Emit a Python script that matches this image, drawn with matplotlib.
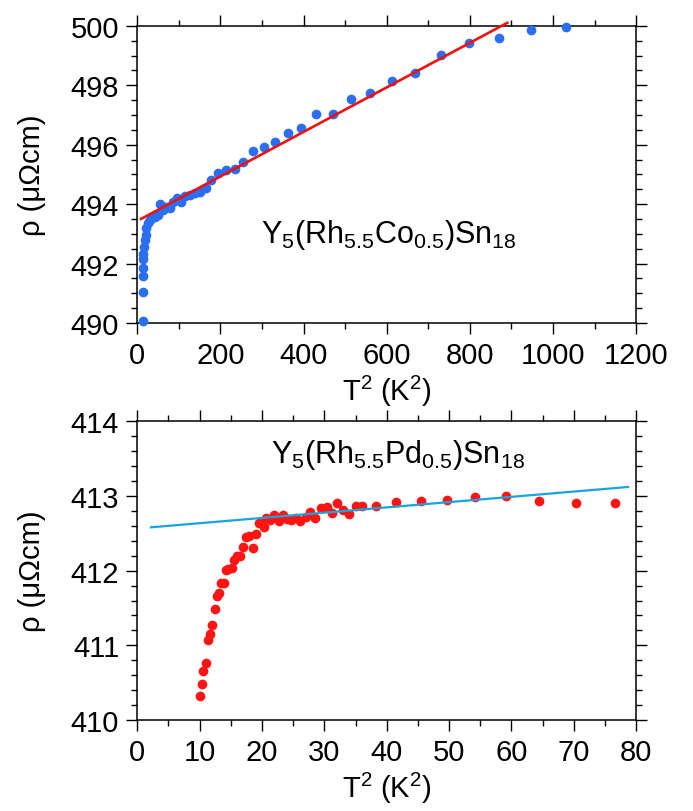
import matplotlib
matplotlib.use('Agg')
import matplotlib.pyplot as plt
from matplotlib.ticker import MultipleLocator

plt.rcParams['font.family'] = ['Liberation Sans', 'DejaVu Sans']
plt.rcParams['mathtext.fontset'] = 'custom'
plt.rcParams['mathtext.rm'] = 'Liberation Sans'
plt.rcParams['mathtext.it'] = 'Liberation Sans:italic'

# Y5(Rh5.5Co0.5)Sn18 : rho vs T^2
co_T2 = [13.6, 13.6, 13.6, 13.6, 15, 15, 17, 19, 20, 22, 26, 30, 34, 42, 50, 55,
         62, 70, 80, 86, 96, 105, 114, 126, 138, 150, 165, 178, 194, 214, 234,
         254, 278, 304, 332, 363, 395, 431, 470, 513, 560, 612, 669, 730, 797,
         869, 947, 1032]
co_rho = [490.06, 491.03, 491.57, 491.84, 492.16, 492.33, 492.56, 492.79, 492.96,
          493.18, 493.35, 493.46, 493.52, 493.57, 493.63, 493.99, 493.80, 493.90,
          493.86, 494.06, 494.21, 494.06, 494.28, 494.32, 494.39, 494.41, 494.55,
          494.81, 495.06, 495.15, 495.17, 495.41, 495.79, 495.91, 496.09, 496.40,
          496.56, 497.03, 497.04, 497.54, 497.75, 498.13, 498.42, 499.03, 499.43,
          499.59, 499.87, 499.96]
co_fit_x = [9, 890]
co_fit_y = [493.50, 500.10]

# Y5(Rh5.5Pd0.5)Sn18 : rho vs T^2
pd_T2 = [10.1, 10.4, 10.6, 11.06, 11.3, 11.7, 12.0, 12.4, 12.8, 13.1, 13.4, 13.9,
         14.2, 14.6, 15.2, 15.55, 16.0, 16.5, 16.9, 17.4, 18.0, 18.5, 19.1, 19.6,
         20.25, 20.7, 21.3, 22.0, 22.7, 23.4, 24.0, 24.7, 25.4, 26.1, 27.0, 27.7,
         28.5, 29.5, 30.4, 31.2, 32.1, 33.0, 34.0, 35.0, 36.1, 38.3, 41.5, 45.5,
         49.7, 54.2, 59.1, 64.4, 70.3, 76.6]
pd_rho = [410.32, 410.48, 410.65, 410.76, 411.07, 411.15, 411.27, 411.48, 411.66,
          411.70, 411.84, 411.83, 412.01, 412.02, 412.03, 412.14, 412.20, 412.20,
          412.32, 412.45, 412.47, 412.30, 412.49, 412.64, 412.58, 412.71, 412.68,
          412.75, 412.66, 412.75, 412.69, 412.68, 412.71, 412.67, 412.72, 412.79,
          412.70, 412.84, 412.85, 412.77, 412.90, 412.81, 412.76, 412.86, 412.87,
          412.87, 412.92, 412.93, 412.95, 412.99, 413.00, 412.93, 412.91, 412.91]
pd_fit_x = [2.2, 78.7]
pd_fit_y = [412.58, 413.12]

fig = plt.figure(figsize=(6.93, 8.12), dpi=100)
ax1 = fig.add_axes([0.198, 0.601, 0.720, 0.366])
ax2 = fig.add_axes([0.198, 0.112, 0.720, 0.368])

fs = 21

def style(ax):
    ax.tick_params(which='both', direction='out', top=True, right=True,
                   labelsize=fs, width=1, pad=5)
    ax.tick_params(which='major', length=8)
    ax.tick_params(which='minor', length=4)
    for s in ax.spines.values():
        s.set_linewidth(1.1)
    ax.set_ylabel('ρ (μΩcm)', fontsize=fs, labelpad=18)
    ax.set_xlabel('T$^2$ (K$^2$)', fontsize=fs, labelpad=3)

ax1.plot(co_T2, co_rho, 'o', color='#2a6ef2', ms=7, mec='none', clip_on=False, zorder=3)
ax1.plot(co_fit_x, co_fit_y, '-', color='#f01010', lw=1.9, clip_on=False, zorder=4)
ax1.set_xlim(0, 1200)
ax1.set_ylim(490, 500)
ax1.xaxis.set_major_locator(MultipleLocator(200))
ax1.xaxis.set_minor_locator(MultipleLocator(100))
ax1.yaxis.set_major_locator(MultipleLocator(2))
ax1.yaxis.set_minor_locator(MultipleLocator(0.5))
style(ax1)
ax1.text(606, 493.0, 'Y$_5$(Rh$_{5.5}$Co$_{0.5}$)Sn$_{18}$', fontsize=22,
         ha='center', va='center')

ax2.plot(pd_T2, pd_rho, 'o', color='#ff1414', ms=7, mec='none', clip_on=False, zorder=3)
ax2.plot(pd_fit_x, pd_fit_y, '-', color='#18a4e0', lw=1.6, zorder=4)
ax2.set_xlim(0, 80)
ax2.set_ylim(410, 414)
ax2.xaxis.set_major_locator(MultipleLocator(10))
ax2.xaxis.set_minor_locator(MultipleLocator(5))
ax2.yaxis.set_major_locator(MultipleLocator(1))
ax2.yaxis.set_minor_locator(MultipleLocator(0.2))
style(ax2)
ax2.text(41.8, 413.56, 'Y$_5$(Rh$_{5.5}$Pd$_{0.5}$)Sn$_{18}$', fontsize=22,
         ha='center', va='center')

fig.savefig('out.png', dpi=100)
